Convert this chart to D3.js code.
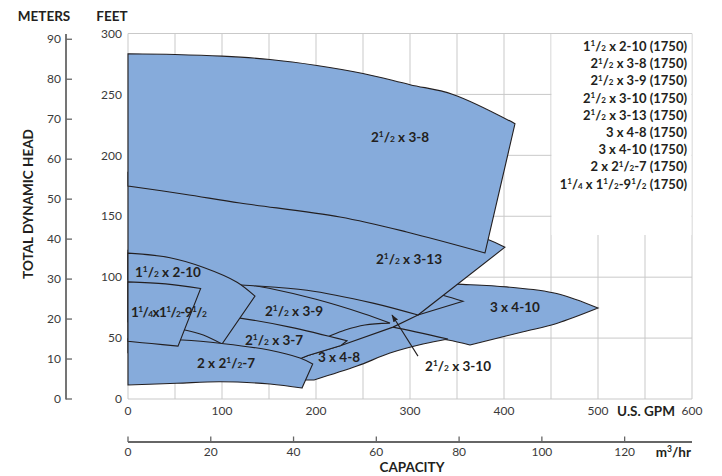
<!DOCTYPE html>
<html><head><meta charset="utf-8">
<script src="https://cdn.jsdelivr.net/npm/d3@7"></script>
<style>
body{margin:0;background:#fff}
text{font-family:Lato,"Open Sans",sans-serif}
</style>
</head><body>
<svg id="chart" width="722" height="476"></svg>
<script>
// ---------- tick values ----------
const gpmTicks   = [0,100,200,300,400,500,600];
const gpmGrid    = [0,50,100,150,200,250,300,350,400,450,500,550,600];
const feetTicks  = [0,50,100,150,200,250,300];
const meterTicks = [0,10,20,30,40,50,60,70,80,90];
const m3hTicks   = [0,20,40,60,80,100,120];

// ---------- pump coverage outlines: [US GPM, feet] ----------
// each outline: top (left→right), right edge, bottom (right→left)
const p3x4_10 = {
  top:    [[250,97],[300,96],[350,94.3],[403,92],[456,86.6],[500,74.6]],
  right:  [[500,74.6],[456,62],[420.5,55.2],[363.8,44.3]],
  bottom: [[363.8,44.3],[340.4,48.4],[310.6,51.6],[264.9,54.1]]
};
const p3x4_8 = {
  top:    [[230,66.5],[281.9,59],[340.4,49.2]],
  right:  [[340.4,49.2],[313.8,45.1],[278.7,37.7],[243.6,27],[197.9,15.6]],
  bottom: [[197.9,15.6],[183,15.6],[170,16],[175,45]]
};
const p3_10 = {
  top:    [[0,122],[100,118.7],[200,108.8],[300,92.3],[335,85.2],[356.4,80.3]],
  right:  [[356.4,80.3],[308.5,68.9],[281.9,59],[226.6,43.9],[191.5,35.7],[177.7,31.4]],
  bottom: [[177.7,31.4],[100,36],[0,38]]
};
const p3_9 = {
  top:    [[77,99.5],[100,97.3],[150,90.9],[200,81.8],[250,70.2],[278.7,62.3]],
  right:  [[278.7,62.3],[252,60.7],[231,56.6],[217,52.5],[183,40.5]],
  bottom: [[183,40.5],[130,47],[77,58]]
};
const p3_7 = {
  top:    [[45,72],[77,70],[119.1,66.4],[172.3,59],[233,47.8]],
  right:  [[233,47.8],[226.6,43.9],[191.5,35.7],[177.7,31.4]],
  bottom: [[177.7,31.4],[100,36.5],[45,40]]
};
const p3_13 = {
  top:    [[0,186],[100,178],[200,166],[300,150],[383,131],[401,124.6]],
  right:  [[401,124.6],[308.5,68.9]],
  bottom: [[308.5,68.9],[260.6,78.7],[190.4,89.3],[124.5,93.4],[60,96.5],[0,98]]
};
const p3_8 = {
  top:    [[0,283.4],[50,282.8],[100,281.4],[151,278.7],[201,273.8],[250,267.2],[300,258],[345.7,250],[411.7,226]],
  right:  [[411.7,226],[379.8,119.9]],
  bottom: [[379.8,119.9],[296.5,137.1],[225.5,149.4],[119.1,160.9],[60,168.1],[0,174.8]]
};
const p2_10 = {
  top:    [[0,119.7],[44.7,116],[79.8,108.2],[116,95.9],[135.1,84.4]],
  right:  [[135.1,84.4],[100,45.1]],
  bottom: [[100,45.1],[80.1,52.5],[60.6,56.6],[0,63.3]]
};
const p2x25_7 = {
  top:    [[0,49.5],[58,48.4],[100,45.5],[150,40.2],[183,33.6],[196.5,28.7]],
  right:  [[196.5,28.7],[185.1,9]],
  bottom: [[185.1,9],[151,12.3],[97.9,14.2],[51.8,12.9],[0,11.5]]
};
const p125_95 = {
  top:    [[0,96.1],[40,94.5],[77.3,90.7]],
  right:  [[77.3,90.7],[53.2,43.4]],
  bottom: [[53.2,43.4],[25,45.5],[0,47.3]]
};
// drawing order (back to front)
const outlines = [p3x4_10, p3x4_8, p3_10, p3_9, p3_7, p3_13, p3_8, p2_10, p2x25_7, p125_95];
const smoothRight = [true, true, false, true, false, false, false, false, false, false];

// ---------- labels (text pieces: [string, kind]) ----------
const H = [["1","sup"],["/","n"],["2","sub"]];      // ½
const Q = [["1","sup"],["/","n"],["4","sub"]];      // ¼
const regionLabels = [
  {at:[258.5,210.7], parts:[["2","n"],...H,[" x 3-8","n"]]},
  {at:[263.8,110.7], parts:[["2","n"],...H,[" x 3-13","n"]]},
  {at:[7.4,100],     parts:[["1","n"],...H,[" x 2-10","n"]]},
  {at:[3.2,67.2],    parts:[["1","n"],...Q,["x1","n"],...H,["-9","n"],...H], tight:true},
  {at:[145.7,68],    parts:[["2","n"],...H,[" x 3-9","n"]]},
  {at:[124.5,44.3],  parts:[["2","n"],...H,[" x 3-7","n"]]},
  {at:[73.4,25.4],   parts:[["2 x 2","n"],...H,["-7","n"]]},
  {at:[202,30.3],    parts:[["3 x 4-8","n"]]},
  {at:[385,71.7],    parts:[["3 x 4-10","n"]]},
  {at:[316,23],      parts:[["2","n"],...H,[" x 3-10","n"]]}
];
const arrowFrom = [308.5,35.2], arrowTo = [280.9,68.9];
const legendItems = [
  [["1","n"],...H,[" x 2-10 (1750)","n"]],
  [["2","n"],...H,[" x 3-8 (1750)","n"]],
  [["2","n"],...H,[" x 3-9 (1750)","n"]],
  [["2","n"],...H,[" x 3-10 (1750)","n"]],
  [["2","n"],...H,[" x 3-13 (1750)","n"]],
  [["3 x 4-8 (1750)","n"]],
  [["3 x 4-10 (1750)","n"]],
  [["2 x 2","n"],...H,["-7 (1750)","n"]],
  [["1","n"],...Q,[" x 1","n"],...H,["-9","n"],...H,[" (1750)","n"]]
];

// ---------- scales ----------
const svg = d3.select("#chart");
const x = d3.scaleLinear().domain([0,600]).range([128,692]);
const y = d3.scaleLinear().domain([0,300]).range([399,33.5]);
const FT_PER_M = 3.28084, GPM_PER_M3H = 4.40287;
const yM = d3.scaleLinear().domain([0,300/FT_PER_M]).range([399,33.5]);
const xM = d3.scaleLinear().domain([0,600/GPM_PER_M3H]).range([128,692]);

const FILL = "#86abdb", INK = "#231f20", GRID = "#c9c9c9", TICK = "#3a3a3a";

// grid
const g = svg.append("g");
g.selectAll("line.v").data(gpmGrid).join("line")
  .attr("x1",d=>x(d)).attr("x2",d=>x(d)).attr("y1",y(300)).attr("y2",y(0))
  .attr("stroke",GRID).attr("stroke-width",1);
g.selectAll("line.h").data(feetTicks).join("line")
  .attr("x1",x(0)).attr("x2",x(600)).attr("y1",d=>y(d)).attr("y2",d=>y(d))
  .attr("stroke",GRID).attr("stroke-width",1);

// outlines
const smooth = d3.line().x(d=>x(d[0])).y(d=>y(d[1])).curve(d3.curveCatmullRom.alpha(0.5));
const straight = d3.line().x(d=>x(d[0])).y(d=>y(d[1]));
function outlinePath(o,i){
  const a = smooth(o.top);
  const b = (smoothRight[i] ? smooth(o.right) : straight(o.right)).replace(/^M/,"L");
  const c = smooth(o.bottom).replace(/^M/,"L");
  return a + b + c + "Z";
}
svg.append("g").selectAll("path").data(outlines).join("path")
  .attr("d",(d,i)=>outlinePath(d,i))
  .attr("fill",FILL).attr("stroke",INK).attr("stroke-width",1.1).attr("stroke-linejoin","miter");

// legend box
svg.append("rect").attr("x",x(450)+0.5).attr("y",y(300)+0.5)
  .attr("width",x(600)-x(450)-1).attr("height",y(135)-y(300))
  .attr("fill","#fff");

function fracText(sel, parts, size){
  let off = 0;
  parts.forEach(([t,k])=>{
    const target = k==="sup" ? -size*0.36 : 0;
    const fs = k==="n" ? size : size*0.62;
    sel.append("tspan").attr("font-size",fs).attr("dy",target-off).text(t);
    off = target;
  });
}

const legend = svg.append("g");
legendItems.forEach((parts,i)=>{
  const t = legend.append("text").attr("x",687).attr("y",51+i*17.2)
    .attr("text-anchor","end").attr("font-weight",700).attr("fill",INK);
  fracText(t,parts,13);
});

// region labels
regionLabels.forEach(l=>{
  const t = svg.append("text").attr("x",x(l.at[0])).attr("y",y(l.at[1]))
    .attr("text-anchor","start").attr("font-weight",700).attr("fill",INK)
    .attr("letter-spacing", l.tight ? -0.6 : 0);
  fracText(t,l.parts,13.5);
});
// arrow
svg.append("defs").append("marker").attr("id","ah").attr("viewBox","0 0 10 10")
  .attr("refX",9).attr("refY",5).attr("markerWidth",7).attr("markerHeight",7)
  .attr("orient","auto").append("path").attr("d","M0,1.5L10,5L0,8.5Z").attr("fill",INK);
svg.append("line").attr("x1",x(arrowFrom[0])).attr("y1",y(arrowFrom[1]))
  .attr("x2",x(arrowTo[0])).attr("y2",y(arrowTo[1]))
  .attr("stroke",INK).attr("stroke-width",1.1).attr("marker-end","url(#ah)");

// feet labels
svg.append("g").selectAll("text").data(feetTicks).join("text")
  .attr("x",122).attr("y",d=>y(d)).attr("dy","0.35em").attr("text-anchor","end")
  .attr("font-size",12).attr("fill",TICK).text(d=>d);
// gpm labels
svg.append("g").selectAll("text").data(gpmTicks).join("text")
  .attr("x",d=>x(d)).attr("y",411).attr("dy","0.35em").attr("text-anchor","middle")
  .attr("font-size",12).attr("fill",TICK).text(d=>d);
svg.append("text").attr("x",(x(500)+x(600))/2+1).attr("y",411).attr("dy","0.35em")
  .attr("text-anchor","middle").attr("font-size",13.5).attr("font-weight",700).attr("fill",INK).text("U.S. GPM");

// meters axis
const mAxis = svg.append("g");
mAxis.append("line").attr("x1",66).attr("x2",66).attr("y1",34).attr("y2",399.5)
  .attr("stroke","#666").attr("stroke-width",1.8);
mAxis.selectAll("line.t").data(meterTicks).join("line")
  .attr("x1",66).attr("x2",72).attr("y1",d=>yM(d)).attr("y2",d=>yM(d))
  .attr("stroke","#666").attr("stroke-width",1.3);
mAxis.selectAll("text").data(meterTicks).join("text")
  .attr("x",61).attr("y",d=>yM(d)).attr("dy","0.35em").attr("text-anchor","end")
  .attr("font-size",12).attr("fill",TICK).text(d=>d);

// m3/hr axis
const cAxis = svg.append("g");
cAxis.append("line").attr("x1",128).attr("x2",692).attr("y1",442).attr("y2",442)
  .attr("stroke","#666").attr("stroke-width",1.8);
cAxis.selectAll("line.t").data(m3hTicks).join("line")
  .attr("x1",d=>xM(d)).attr("x2",d=>xM(d)).attr("y1",436.5).attr("y2",442)
  .attr("stroke","#666").attr("stroke-width",1.3);
cAxis.selectAll("text").data(m3hTicks).join("text")
  .attr("x",d=>xM(d)).attr("y",452).attr("dy","0.35em").attr("text-anchor","middle")
  .attr("font-size",12).attr("fill",TICK).text(d=>d);
const mt = svg.append("text").attr("x",691).attr("y",456.5)
  .attr("text-anchor","end").attr("font-weight",700).attr("font-size",13.5).attr("fill",INK);
mt.append("tspan").text("m");
mt.append("tspan").attr("font-size",8.5).attr("dy",-4.5).text("3");
mt.append("tspan").attr("dy",4.5).text("/hr");

// titles
svg.append("text").attr("x",44).attr("y",16).attr("dy","0.35em").attr("text-anchor","middle")
  .attr("font-weight",700).attr("font-size",13.5).attr("fill",INK).text("METERS");
svg.append("text").attr("x",112).attr("y",16).attr("dy","0.35em").attr("text-anchor","middle")
  .attr("font-weight",700).attr("font-size",13.5).attr("fill",INK).text("FEET");
svg.append("text").attr("transform","translate(28,204) rotate(-90)").attr("dy","0.35em")
  .attr("text-anchor","middle").attr("font-weight",700).attr("font-size",13.5).attr("fill",INK)
  .text("TOTAL DYNAMIC HEAD");
svg.append("text").attr("x",412).attr("y",467).attr("dy","0.35em").attr("text-anchor","middle")
  .attr("font-weight",700).attr("font-size",13.5).attr("fill",INK).text("CAPACITY");
</script>
</body></html>
